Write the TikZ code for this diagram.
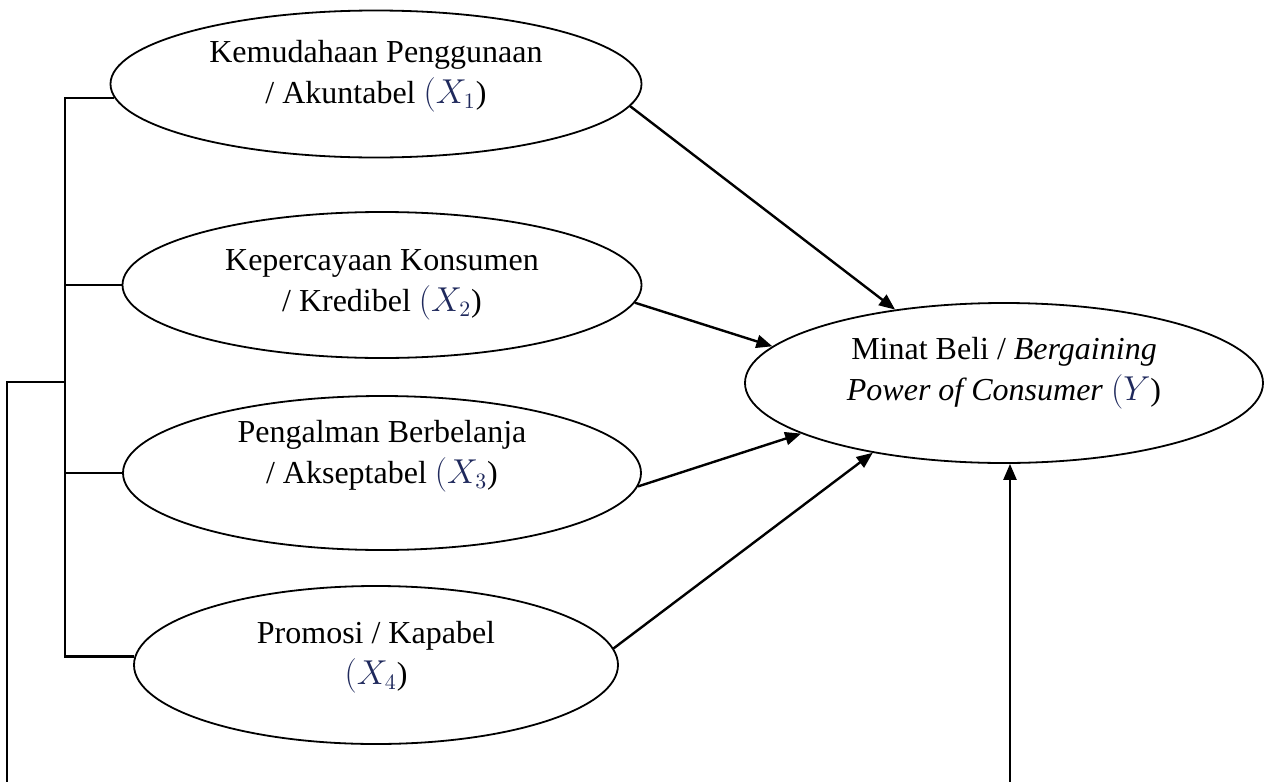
\documentclass[tikz,border=0pt]{standalone}
\usepackage{fontspec}
\setmainfont{Liberation Serif}
\usepackage{xcolor}
\usepackage{amsmath}
\usepackage{tikz}
\usetikzlibrary{shapes.geometric,arrows.meta}

\definecolor{varink}{rgb}{0.12,0.16,0.36}
\newcommand{\varsym}[1]{{\color{varink}$(#1$}}
\newcommand{\vartext}[2]{\raisebox{#1}[0pt][0pt]{\begin{tabular}{@{}c@{}}#2\end{tabular}}}

\tikzset{
  var/.style={ellipse, draw, line width=0.9pt, inner sep=0pt,
    font=\fontsize{16}{20.5}\selectfont},
  link/.style={line width=1.2pt, -{Triangle[length=8pt,width=6.5pt]}},
  wire/.style={line width=1.1pt}
}

\begin{document}
\begin{tikzpicture}[x=0.5pt,y=-0.5pt]
		  \useasboundingbox (0,0) rectangle (1265,782);
		  \node[var, minimum width=265.5pt, minimum height=73.5pt] (x1) at (376,84) {\vartext{0.5pt}{Kemudahaan Penggunaan\\/ Akuntabel \varsym{X_{1}})}} ; %
		  \node[var, minimum width=259.5pt, minimum height=73pt] (x2) at (382,285) {\vartext{-3pt}{Kepercayaan Konsumen\\/ Kredibel \varsym{X_{2}})}} ; %
		  \node[var, minimum width=259pt, minimum height=77pt] (x3) at (382,473) {\vartext{5pt}{Pengalman Berbelanja\\/ Akseptabel \varsym{X_{3}})}} ; %
		  \node[var, minimum width=242pt, minimum height=79pt] (x4) at (376,665) {\vartext{0.5pt}{Promosi / Kapabel\\\varsym{X_{4}})}} ; %
		  \node[var, minimum width=259pt, minimum height=80pt] (y) at (1004,383) {\vartext{1.5pt}{Minat Beli / \textit{Bergaining}\\\textit{Power of Consumer} \varsym{Y})}} ; %
		  
		  \coordinate (bus) at (65,382) ; %
		  \coordinate (outer) at (7,782) ; %
		  \coordinate (bot) at (1010,782) ; %
		  
		  \draw[link] (x1.-5) -- (y.146) ;
		  \draw[link] (x2.-4) -- (y.171) ;
		  \draw[link] (x3.-3) -- (y.-166) ;
		  \draw[link] (x4.4) -- (y.-152) ;
		  \draw[link] (bot) -- (bot |- y.south) ;
		  
		  \draw[wire] (x1.183) -- (x1.183 -| bus) -- (x4.178 -| bus) -- (x4.178) ;
		  \draw[wire] (x2.west) -- (x2.west -| bus) ;
		  \draw[wire] (x3.west) -- (x3.west -| bus) ;
		  \draw[wire] (bus) -- (bus -| outer) -- (outer) ;
		\end{tikzpicture}
\end{document}
